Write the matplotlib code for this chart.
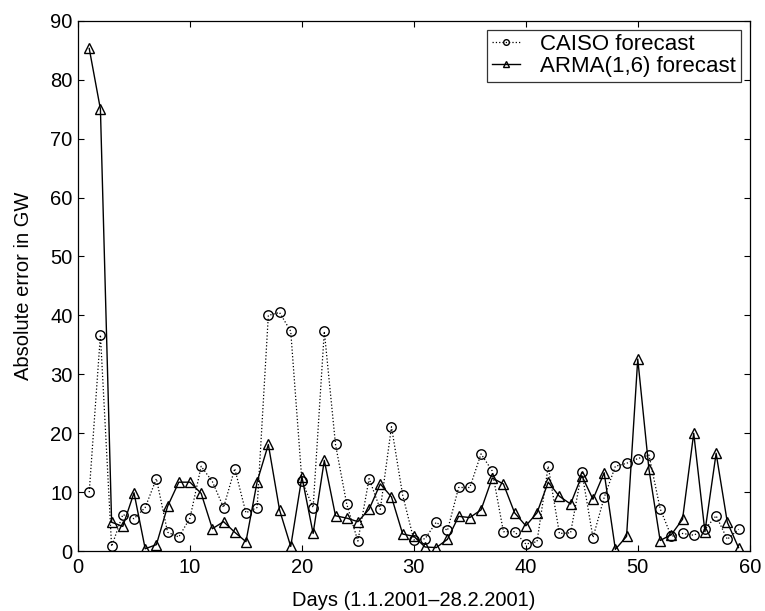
import matplotlib
matplotlib.use("Agg")
import matplotlib.pyplot as plt

days = list(range(1, 60))

caiso = [10.0, 36.7, 0.8, 6.2, 5.5, 7.4, 12.3, 3.2, 2.4, 5.6,
         14.4, 11.8, 7.4, 14.0, 6.5, 7.4, 40.0, 40.5, 37.3, 11.9,
         7.4, 37.3, 18.1, 8.0, 1.7, 12.3, 7.1, 21.1, 9.5, 1.9,
         2.1, 4.9, 3.5, 10.8, 10.8, 16.5, 13.6, 3.3, 3.3, 1.2,
         1.6, 14.4, 3.0, 3.1, 13.5, 2.3, 9.1, 14.4, 14.9, 15.7,
         16.3, 7.2, 2.5, 3.0, 2.7, 3.7, 6.0, 2.0, 3.7]

arma = [85.3, 75.0, 4.9, 4.2, 9.9, 0.4, 1.1, 7.6, 11.7, 11.7,
        9.8, 3.8, 5.0, 3.2, 1.6, 11.8, 18.1, 7.0, 0.8, 12.6,
        3.0, 15.4, 6.0, 5.6, 5.0, 7.1, 11.4, 9.2, 2.9, 2.5,
        0.7, 0.6, 2.0, 5.9, 5.7, 7.0, 12.4, 11.4, 6.5, 4.3,
        6.5, 11.7, 9.3, 8.0, 12.8, 8.8, 13.3, 0.3, 2.5, 32.6,
        13.9, 1.8, 2.8, 5.4, 20.0, 3.3, 16.6, 4.9, 0.6]

x_ticks = [0, 10, 20, 30, 40, 50, 60]
y_ticks = [0, 10, 20, 30, 40, 50, 60, 70, 80, 90]

plt.rcParams['font.family'] = ['Liberation Sans', 'DejaVu Sans']

fig = plt.figure(figsize=(7.65, 6.11), dpi=100)
ax = fig.add_axes([0.102, 0.098, 0.878, 0.868])

ax.plot(days, caiso, linestyle=':', color='black', linewidth=0.9,
        marker='o', markersize=6.8, markerfacecolor='none',
        markeredgecolor='black', markeredgewidth=1.0,
        label='CAISO forecast')
ax.plot(days, arma, linestyle='-', color='black', linewidth=1.0,
        marker='^', markersize=7.0, markerfacecolor='none',
        markeredgecolor='black', markeredgewidth=1.0,
        label='ARMA(1,6) forecast')

ax.set_xlim(0, 60)
ax.set_ylim(0, 90)
ax.set_xticks(x_ticks)
ax.set_yticks(y_ticks)
ax.tick_params(direction='in', length=4.5, width=0.8, top=True, right=True,
               labelsize=14.5)
ax.tick_params(axis='x', pad=5)
ax.tick_params(axis='y', pad=4)
for s in ax.spines.values():
    s.set_linewidth(0.9)

ax.set_xlabel('Days (1.1.2001\u201328.2.2001)', fontsize=14.5, labelpad=10)
ax.set_ylabel('Absolute error in GW', fontsize=14.5, labelpad=12)

leg = ax.legend(loc='upper right', fontsize=16, frameon=True, fancybox=False,
                edgecolor='black', handlelength=1.3, handletextpad=0.9,
                borderpad=0.2, labelspacing=0.05, borderaxespad=0.4,
                markerscale=0.6)
leg.get_frame().set_linewidth(0.9)

fig.savefig('out.png', dpi=100)
